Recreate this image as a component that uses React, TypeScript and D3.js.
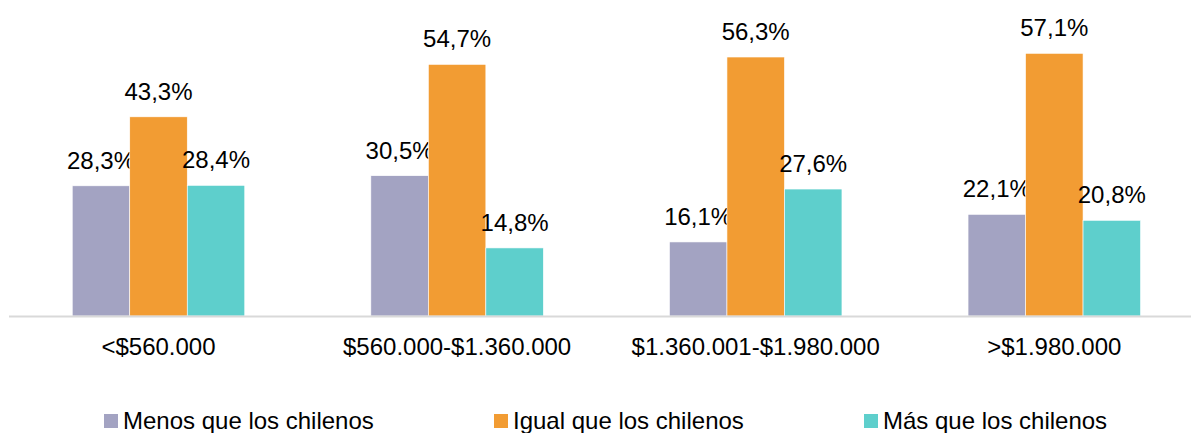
import React from "react";
import * as d3 from "d3";

const categories = ["<$560.000", "$560.000-$1.360.000", "$1.360.001-$1.980.000", ">$1.980.000"];
const seriesNames = ["Menos que los chilenos", "Igual que los chilenos", "Más que los chilenos"];
const menos = [28.3, 30.5, 16.1, 22.1];
const igual = [43.3, 54.7, 56.3, 57.1];
const mas = [28.4, 14.8, 27.6, 20.8];
const colors = ["#a3a3c2", "#f29c33", "#5ecfcc"];

const W = 1191;
const H = 433;
const FONT = "'Liberation Sans', Arial, sans-serif";

export default function App() {
  const series = [menos, igual, mas];
  const x0 = d3.scaleBand<string>().domain(categories).range([9.2, 1203.6]).paddingInner(0).paddingOuter(0);
  const groupW = 172.5;
  const x1 = d3
    .scaleBand<number>()
    .domain([0, 1, 2])
    .range([0, groupW])
    .padding(0);
  const y = d3.scaleLinear().domain([0, 10]).range([316, 270]);
  const fmt = (v: number) => v.toFixed(1).replace(".", ",") + "%";
  const legendX = [123, 513, 883];

  return (
    <svg width={W} height={H} style={{ position: "absolute", left: 0, top: 0 }} fontFamily={FONT}>
      <rect x={0} y={0} width={W} height={H} fill="#fff" />
      {categories.map((c, i) => {
        const gx = x0(c)! + x0.bandwidth() / 2 - groupW / 2;
        return (
          <g key={c}>
            {series.map((s, j) => {
              const bx = gx + x1(j)!;
              const by = y(s[i]);
              return (
                <g key={j}>
                  <rect
                    x={bx}
                    y={by}
                    width={x1.bandwidth()}
                    height={y(0) - by}
                    fill={colors[j]}
                    stroke="#fff"
                    strokeWidth={0.6}
                  />
                  <text x={bx + x1.bandwidth() / 2} y={by - 17} textAnchor="middle" fontSize={24} fill="#000">
                    {fmt(s[i])}
                  </text>
                </g>
              );
            })}
            <text x={x0(c)! + x0.bandwidth() / 2} y={355} textAnchor="middle" fontSize={24} fill="#000">
              {c}
            </text>
          </g>
        );
      })}
      <line x1={9} x2={W} y1={y(0) + 0.5} y2={y(0) + 0.5} stroke="#d9d9d9" strokeWidth={2} />
      {seriesNames.map((n, j) => (
        <g key={n}>
          <rect x={legendX[j] - 19} y={414} width={14} height={14} fill={colors[j]} />
          <text x={legendX[j]} y={429} fontSize={24} fill="#000">
            {n}
          </text>
        </g>
      ))}
    </svg>
  );
}
